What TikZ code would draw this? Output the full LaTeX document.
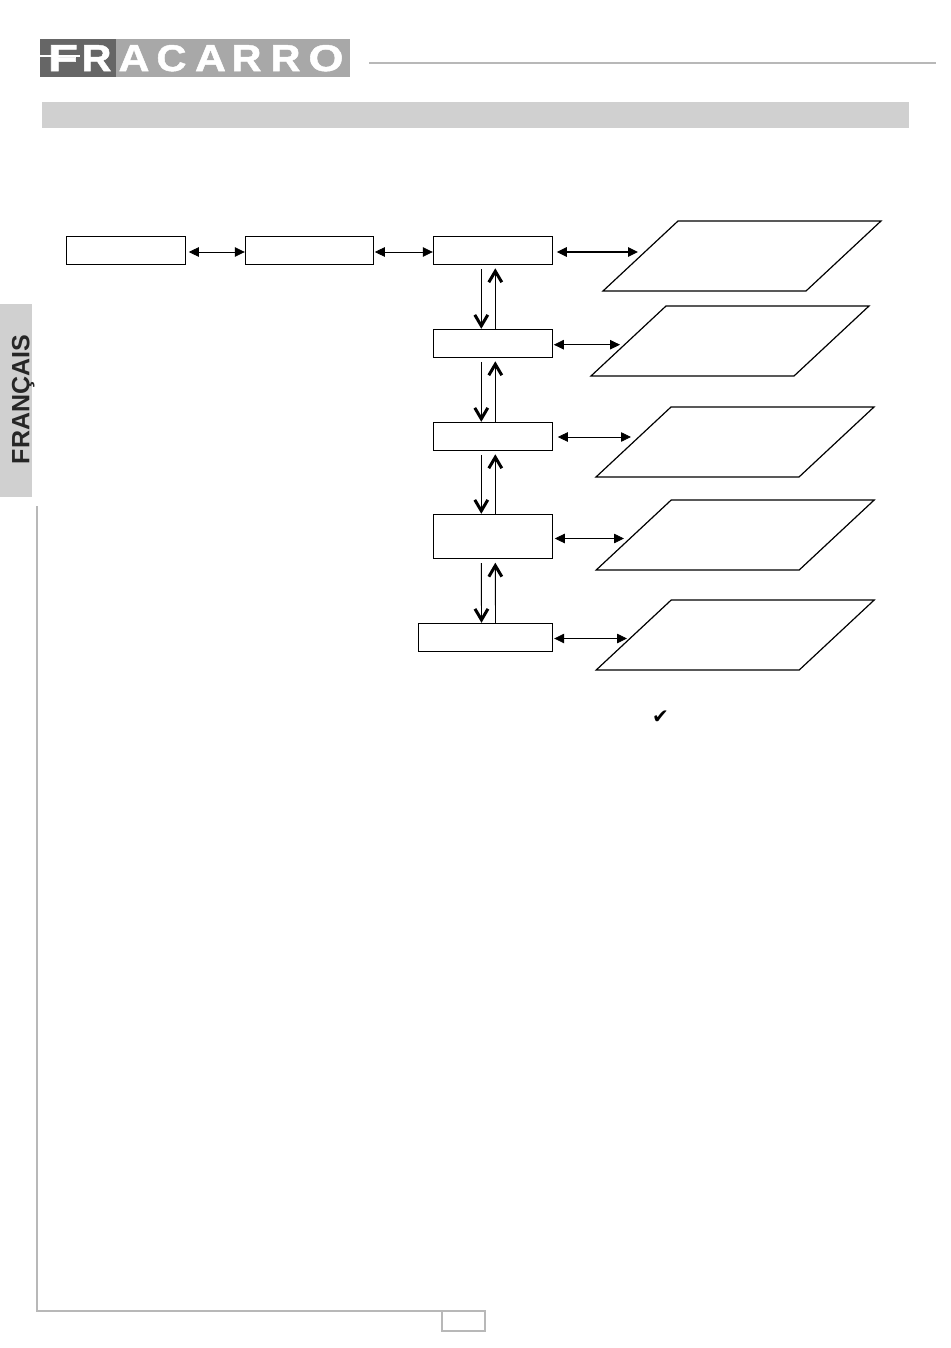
\documentclass[tikz,border=0pt]{standalone}
\usepackage{fontspec}
\setmainfont{Liberation Sans}
\newfontfamily\djv{DejaVu Sans}
\newfontfamily\lgf{Liberation Sans}[BoldFeatures={FakeBold=1.2}]
\usetikzlibrary{arrows.meta}
\definecolor{barg}{HTML}{D0D0D0}
\definecolor{ruleg}{HTML}{B8B8B8}
\definecolor{logod}{HTML}{666666}
\definecolor{logol}{HTML}{A8A8A8}
\tikzset{
  menubox/.style={draw=black,line width=1pt,fill=white,inner sep=0pt,minimum height=#1,anchor=center},
  para/.style={draw=black,line width=1.2pt,line join=miter},
  hlink/.style={line width=.8pt,{Triangle[length=10pt,width=9.5pt]}-{Triangle[length=10pt,width=9.5pt]}},
  vlink/.style={line width=.9pt,-{Straight Barb[length=11pt,width=13pt,line width=3pt]}},
  logotxt/.style={text=white,font=\lgf\bfseries,inner sep=0pt},
}
\newcommand{\parashape}[1]{\draw[para,shift={(#1)}] (-64,-35) -- (139,-35) -- (64,35) -- (-139,35) -- cycle;}
\begin{document}
\begin{tikzpicture}[x=1pt,y=-1pt]
\useasboundingbox (0,0) rectangle (950,1348);
% header
\fill[logod] (40,39) rectangle (116,77);
\fill[logol] (116,39) rectangle (350,77);
\draw[ruleg,line width=1.5pt] (369,63) -- (936,63);
\fill[barg] (42,102) rectangle (909,128);
\node[logotxt] (lF) at (63,58.2) {\resizebox{30pt}{26pt}{F}};
\node[logotxt] (lR1) at (96.5,58.2) {\resizebox{30pt}{26pt}{R}};
\draw[white,line width=1.8pt] (40,56) -- (80,56);
\node[logotxt] (lA1) at (134,58.2) {\resizebox{31pt}{26pt}{A}};
\node[logotxt] (lC) at (171.5,58.2) {\resizebox{30pt}{26pt}{C}};
\node[logotxt] (lA2) at (210.5,58.2) {\resizebox{31pt}{26pt}{A}};
\node[logotxt] (lR2) at (246.5,58.2) {\resizebox{30pt}{26pt}{R}};
\node[logotxt] (lR3) at (285.5,58.2) {\resizebox{30pt}{26pt}{R}};
\node[logotxt] (lO) at (326,58.2) {\resizebox{35pt}{26pt}{O}};
% tab
\fill[barg] (0,304) rectangle (32,497);
\node[rotate=90,anchor=base,font=\bfseries\fontsize{25}{25}\selectfont,text=black!85,inner sep=0pt] (tab) at (29.3,399.5) {FRANÇAIS};
% frame
\draw[ruleg,line width=2pt] (37,506) -- (37,1311) -- (441,1311);
\node[draw=ruleg,line width=2pt,minimum width=43pt,minimum height=20pt,inner sep=0pt] (page) at (463.5,1321) {};
% boxes
\node[menubox=28pt,minimum width=119pt] (b1) at (125.8,250.3) {};
\node[menubox=28pt,minimum width=128pt] (b2) at (309.3,250.3) {};
\node[menubox=28pt,minimum width=119pt] (b3) at (492.8,250.3) {};
\node[menubox=28pt,minimum width=119pt] (b4) at (492.8,343.3) {};
\node[menubox=28pt,minimum width=119pt] (b5) at (492.8,436.3) {};
\node[menubox=44.4pt,minimum width=119pt] (b6) at (492.8,536.5) {};
\node[menubox=28pt,minimum width=134.4pt] (b7) at (485.5,637.3) {};
% parallelograms
\coordinate (p1) at (742,256); \parashape{p1}
\coordinate (p2) at (730,341); \parashape{p2}
\coordinate (p3) at (735,442); \parashape{p3}
\coordinate (p4) at (735.2,535); \parashape{p4}
\coordinate (p5) at (735.2,635); \parashape{p5}
% horizontal links
\draw[hlink] ([shift={(3,1.7)}]b1.east) -- ([shift={(0,1.7)}]b2.west);
\draw[hlink] ([shift={(1,1.7)}]b2.east) -- ([shift={(0,1.7)}]b3.west);
\draw[hlink,line width=1.2pt] ([shift={(4,1.7)}]b3.east) -- ([shift={(-104,-4)}]p1);
\draw[hlink] ([shift={(1,1.4)}]b4.east) -- ([shift={(-110,3.7)}]p2);
\draw[hlink] ([shift={(5,.7)}]b5.east) -- ([shift={(-104,-5)}]p3);
\draw[hlink] ([shift={(2,2)}]b6.east) -- ([shift={(-111.2,3.5)}]p4);
\draw[hlink] ([shift={(1,1.2)}]b7.east) -- ([shift={(-108.2,3.5)}]p5);
% vertical links
\draw[vlink] ([shift={(-11.5,4)}]b3.south) -- ([shift={(-11.5,0)}]b4.north);
\draw[vlink] ([shift={(2.5,0)}]b4.north) -- ([shift={(2.5,3.5)}]b3.south);
\draw[vlink] ([shift={(-11.5,4)}]b4.south) -- ([shift={(-11.5,0)}]b5.north);
\draw[vlink] ([shift={(2.5,0)}]b5.north) -- ([shift={(2.5,3.5)}]b4.south);
\draw[vlink] ([shift={(-11.5,4)}]b5.south) -- ([shift={(-11.5,0)}]b6.north);
\draw[vlink] ([shift={(2.5,0)}]b6.north) -- ([shift={(2.5,3.5)}]b5.south);
\draw[vlink] ([shift={(-11.5,4)}]b6.south) -- ([shift={(-4,0)}]b7.north);
\draw[vlink] ([shift={(10,0)}]b7.north) -- ([shift={(2.5,3.5)}]b6.south);
% check
\node[font=\djv\fontsize{20}{20}\selectfont,inner sep=0pt] (chk) at (660.5,717) {✔};
\end{tikzpicture}
\end{document}
